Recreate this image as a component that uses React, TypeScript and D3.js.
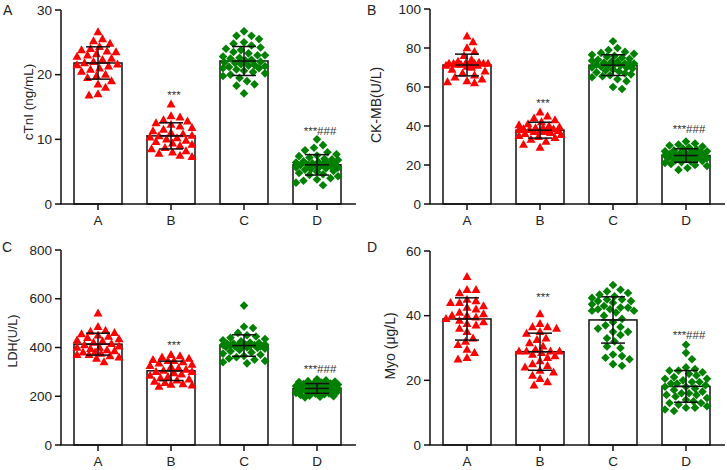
import React from 'react';
import * as d3 from 'd3';

const groups = ['A', 'B', 'C', 'D'];
const groupColors = ['#FF0000', '#FF0000', '#008000', '#008000'];
const groupShapes = ['triangle', 'triangle', 'diamond', 'diamond'];

// Panel A: cTnI (ng/mL)
const cTnI_A = [26.6, 25.5, 25.2, 24.8, 24.3, 24.0, 23.8, 23.6, 23.5, 23.2, 23.0, 22.8, 22.5, 22.3, 22.0, 21.8, 21.6, 21.5, 21.3, 21.0, 20.8, 20.5, 20.0, 19.8, 19.5, 19.0, 18.5, 18.0, 17.0, 16.8];
const cTnI_B = [15.4, 13.6, 13.4, 13.0, 12.8, 12.5, 12.3, 12.0, 11.8, 11.5, 11.3, 11.0, 10.8, 10.6, 10.5, 10.3, 10.2, 10.0, 9.8, 9.6, 9.4, 9.2, 9.0, 8.7, 8.5, 8.2, 8.0, 7.8, 7.5, 7.3];
const cTnI_C = [26.7, 26.0, 26.0, 25.5, 25.0, 24.8, 24.5, 24.2, 24.0, 23.8, 23.5, 23.3, 23.0, 22.8, 22.6, 22.5, 22.3, 22.2, 22.0, 21.9, 21.8, 21.6, 21.5, 21.4, 21.3, 21.2, 21.0, 21.0, 20.8, 20.6, 20.4, 20.2, 20.0, 19.8, 19.5, 19.0, 18.5, 18.3, 17.1, 23.0];
const cTnI_D = [10.0, 9.1, 8.7, 8.3, 8.0, 7.7, 7.5, 7.4, 7.2, 7.0, 6.9, 6.8, 6.6, 6.5, 6.4, 6.3, 6.2, 6.2, 6.1, 6.0, 6.0, 5.9, 5.8, 5.7, 5.6, 5.5, 5.4, 5.3, 5.1, 5.0, 4.8, 4.6, 4.5, 4.3, 4.0, 3.8, 3.6, 3.3, 2.9, 6.3];

// Panel B: CK-MB (U/L)
const ckmb_A = [86, 83, 80, 78, 76, 74, 73, 72.5, 72, 72, 72, 72, 72, 72, 72, 71.5, 71.5, 71, 71, 70.5, 70, 69, 68, 67, 66, 65, 64, 63, 62.5, 62];
const ckmb_B = [47, 45, 44, 43, 42, 41, 40.5, 40, 39.5, 39, 39, 38.5, 38.5, 38, 38, 38, 37.5, 37.5, 37, 37, 36.5, 36, 35.5, 35, 34.5, 34, 33, 32, 30.5, 29];
const ckmb_C = [83.5, 80, 79, 78, 77.5, 77, 76.5, 76, 75.5, 75, 74.5, 74, 73.5, 73, 72.5, 72, 72, 71.5, 71.5, 71, 71, 70.5, 70, 70, 69.5, 69, 68.5, 68, 67.5, 67, 66.5, 66, 65.5, 65, 64, 63, 60, 59, 72, 73];
const ckmb_D = [32, 31, 30.5, 30, 29.5, 29, 28.5, 28, 27.5, 27, 27, 26.5, 26.5, 26, 26, 25.5, 25.5, 25, 25, 25, 24.5, 24.5, 24.5, 24, 24, 24, 23.5, 23.5, 23, 23, 22.5, 22, 22, 21.5, 21, 20.5, 20, 19.5, 18.5, 17.5];

// Panel C: LDH (U/L)
const ldh_A = [540, 485, 470, 465, 460, 455, 450, 445, 440, 435, 430, 425, 420, 415, 410, 405, 400, 400, 395, 390, 385, 380, 380, 375, 370, 370, 365, 360, 355, 340];
const ldh_B = [370, 365, 360, 355, 350, 345, 345, 340, 335, 330, 325, 320, 315, 310, 305, 300, 300, 295, 290, 285, 280, 275, 270, 265, 260, 255, 250, 248, 245, 240];
const ldh_C = [572, 485, 480, 460, 450, 445, 440, 435, 430, 425, 420, 418, 416, 414, 412, 410, 410, 410, 408, 406, 405, 404, 402, 400, 398, 395, 390, 385, 380, 375, 370, 365, 360, 355, 350, 345, 340, 335, 410, 412];
const ldh_D = [270, 265, 262, 260, 258, 256, 254, 252, 250, 248, 246, 244, 242, 240, 240, 238, 236, 235, 234, 232, 230, 230, 228, 226, 225, 224, 222, 220, 218, 216, 214, 212, 210, 208, 205, 202, 200, 198, 195, 235];

// Panel D: Myo (μg/L)
const myo_A = [52, 48, 48, 47, 45, 44.5, 44, 44, 43, 42.5, 42, 41, 40.5, 40, 40, 39.5, 39, 38.5, 38, 37.5, 37, 36, 35, 33, 32, 31, 29.5, 28.5, 27, 26.5];
const myo_B = [40.5, 37.5, 36.5, 36.5, 36, 35, 34.5, 33, 32.5, 31.5, 30.5, 29.5, 29, 29, 29, 29, 28.5, 28, 27.5, 27, 26, 25, 24.5, 24, 23, 22.5, 21.5, 20.5, 19.5, 18.5];
const myo_C = [49.5, 48, 47.5, 47, 46.5, 46, 45.5, 45, 45, 44.5, 44, 43.5, 43, 42.5, 42, 42, 41.5, 41.5, 41, 40, 39, 38, 37, 36.5, 36, 35, 35, 34, 33, 32, 30.5, 30, 28, 27.5, 27, 26.5, 25, 24.5, 42.5, 44.5];
const myo_D = [31, 28.5, 26.5, 24, 23.5, 23, 23, 22.5, 22, 21.5, 21, 20.5, 20.5, 20, 19.5, 19.5, 19, 18.5, 18, 18, 17.5, 17, 16.5, 16, 16, 15.5, 15.5, 15, 14.5, 14, 13.5, 13, 13, 12.5, 12, 11.5, 11.5, 11, 10.5, 19];

// Tick values
const ticksA = [0, 10, 20, 30];
const ticksB = [0, 20, 40, 60, 80, 100];
const ticksC = [0, 200, 400, 600, 800];
const ticksD = [0, 20, 40, 60];

// Significance labels (text, value of baseline)
const sigLabels = ['', '***', '', '***###'];
const sigA = [0, 16.2, 0, 10.7];
const sigB = [0, 49.7, 0, 36.4];
const sigC = [0, 395, 0, 297];
const sigD = [0, 44.5, 0, 32.9];

const FONT = '"Liberation Sans", Arial, sans-serif';

type PanelCfg = {
  letter: string; title: string; ticks: number[]; data: number[][]; sig: number[];
  axisX: number; top: number; bottom: number; titleX: number; titleY: number; titleSize: number;
  letterX: number; letterY: number;
};

const panels: PanelCfg[] = [
  { letter: 'A', title: 'cTnI (ng/mL)', ticks: ticksA, data: [cTnI_A, cTnI_B, cTnI_C, cTnI_D], sig: sigA,
    axisX: 61, top: 10, bottom: 204, titleX: 28, titleY: 102, titleSize: 13.5, letterX: 3, letterY: 15 },
  { letter: 'B', title: 'CK-MB(U/L)', ticks: ticksB, data: [ckmb_A, ckmb_B, ckmb_C, ckmb_D], sig: sigB,
    axisX: 430, top: 9, bottom: 204, titleX: 376, titleY: 105, titleSize: 14, letterX: 367, letterY: 15 },
  { letter: 'C', title: 'LDH(U/L)', ticks: ticksC, data: [ldh_A, ldh_B, ldh_C, ldh_D], sig: sigC,
    axisX: 61, top: 250, bottom: 445, titleX: 13, titleY: 341, titleSize: 12.5, letterX: 2, letterY: 252 },
  { letter: 'D', title: 'Myo (μg/L)', ticks: ticksD, data: [myo_A, myo_B, myo_C, myo_D], sig: sigD,
    axisX: 430, top: 251, bottom: 445, titleX: 390, titleY: 346, titleSize: 14, letterX: 367, letterY: 252 },
];

function swarm(ys: number[], cx: number, diam: number, maxOff: number): { x: number; y: number }[] {
  const order = ys.map((_, i) => i).sort((a, b) => ys[a] - ys[b]);
  const placed: { x: number; y: number }[] = [];
  const out: { x: number; y: number }[] = new Array(ys.length);
  const step = 1.5;
  for (const i of order) {
    const y = ys[i];
    let chosen = cx;
    let bestX = cx;
    let bestD = -1;
    let found = false;
    const nMax = Math.floor(maxOff / step);
    for (let k = 0; k <= 2 * nMax; k++) {
      const off = (k % 2 === 1 ? 1 : -1) * Math.ceil(k / 2) * step;
      const x = cx + off;
      let minD = Infinity;
      for (const p of placed) {
        const dx = p.x - x, dy = p.y - y;
        const d = Math.sqrt(dx * dx + dy * dy);
        if (d < minD) minD = d;
      }
      if (minD >= diam) { chosen = x; found = true; break; }
      if (minD > bestD) { bestD = minD; bestX = x; }
    }
    if (!found) chosen = bestX;
    const pt = { x: chosen, y };
    placed.push(pt);
    out[i] = pt;
  }
  return out;
}

function Marker({ shape, x, y, color }: { shape: string; x: number; y: number; color: string }) {
  if (shape === 'triangle') {
    const h = 8, w = 9;
    const p = `${x},${y - h * 0.6} ${x + w / 2},${y + h * 0.4} ${x - w / 2},${y + h * 0.4}`;
    return <polygon points={p} fill={color} />;
  }
  const r = 4.3;
  const p = `${x},${y - r} ${x + r},${y} ${x},${y + r} ${x - r},${y}`;
  return <polygon points={p} fill={color} />;
}

function Panel({ cfg }: { cfg: PanelCfg }) {
  const yMax = cfg.ticks[cfg.ticks.length - 1];
  const y = d3.scaleLinear().domain([0, yMax]).range([cfg.bottom, cfg.top]);
  const x = d3.scalePoint<string>().domain(groups).range([cfg.axisX + 37, cfg.axisX + 256]);
  const axisEnd = cfg.axisX + 295;
  const barW = 48;
  const capW = 24;
  const stroke = '#111';
  return (
    <g>
      <text x={cfg.letterX} y={cfg.letterY} fontFamily={FONT} fontSize={14} fill="#222">{cfg.letter}</text>
      {groups.map((g, gi) => {
        const m = d3.mean(cfg.data[gi]) as number;
        const cx = x(g) as number;
        return (
          <rect key={'bar' + g} x={cx - barW / 2} y={y(m)} width={barW} height={cfg.bottom - y(m)}
            fill="white" stroke={stroke} strokeWidth={1.5} />
        );
      })}
      {groups.map((g, gi) => {
        const cx = x(g) as number;
        const pts = swarm(cfg.data[gi].map((v) => y(v)), cx, 8, 22);
        return (
          <g key={'pts' + g}>
            {pts.map((p, i) => (
              <Marker key={i} shape={groupShapes[gi]} x={p.x} y={p.y} color={groupColors[gi]} />
            ))}
          </g>
        );
      })}
      {groups.map((g, gi) => {
        const m = d3.mean(cfg.data[gi]) as number;
        const sd = d3.deviation(cfg.data[gi]) as number;
        const cx = x(g) as number;
        return (
          <g key={'eb' + g} stroke={stroke} strokeWidth={1.5}>
            <line x1={cx} x2={cx} y1={y(m + sd)} y2={y(m - sd)} />
            <line x1={cx - capW / 2} x2={cx + capW / 2} y1={y(m + sd)} y2={y(m + sd)} />
            <line x1={cx - capW / 2} x2={cx + capW / 2} y1={y(m - sd)} y2={y(m - sd)} />
            <line x1={cx - capW / 2} x2={cx + capW / 2} y1={y(m)} y2={y(m)} />
          </g>
        );
      })}
      {groups.map((g, gi) => sigLabels[gi] ? (
        <text key={'sig' + g} x={(x(g) as number) + 3} y={y(cfg.sig[gi])} textAnchor="middle"
          fontFamily={FONT} fontSize={11.5} fill="#333">{sigLabels[gi]}</text>
      ) : null)}
      <line x1={cfg.axisX} x2={cfg.axisX} y1={cfg.top} y2={cfg.bottom} stroke={stroke} strokeWidth={1.5} />
      {cfg.ticks.map((t) => (
        <g key={'yt' + t}>
          <line x1={cfg.axisX - 6} x2={cfg.axisX} y1={y(t)} y2={y(t)} stroke={stroke} strokeWidth={1.5} />
          <text x={cfg.axisX - 9} y={y(t)} dy="0.35em" textAnchor="end" fontFamily={FONT} fontSize={13.5} fill="#222">{t}</text>
        </g>
      ))}
      <line x1={cfg.axisX - 0.75} x2={axisEnd} y1={cfg.bottom} y2={cfg.bottom} stroke={stroke} strokeWidth={1.5} />
      {groups.map((g) => (
        <g key={'xt' + g}>
          <line x1={x(g) as number} x2={x(g) as number} y1={cfg.bottom} y2={cfg.bottom + 6} stroke={stroke} strokeWidth={1.5} />
          <text x={x(g) as number} y={cfg.bottom + 21} textAnchor="middle" fontFamily={FONT} fontSize={13.5} fill="#222">{g}</text>
        </g>
      ))}
      <text transform={`translate(${cfg.titleX},${cfg.titleY}) rotate(-90)`} textAnchor="middle" dy="0.35em"
        fontFamily={FONT} fontSize={cfg.titleSize} fill="#222">{cfg.title}</text>
    </g>
  );
}

export default function App() {
  return (
    <svg width={727} height={470} style={{ position: 'absolute', left: 0, top: 0, background: 'white' }}>
      <rect width={727} height={470} fill="white" />
      {panels.map((p) => <Panel key={p.letter} cfg={p} />)}
    </svg>
  );
}
